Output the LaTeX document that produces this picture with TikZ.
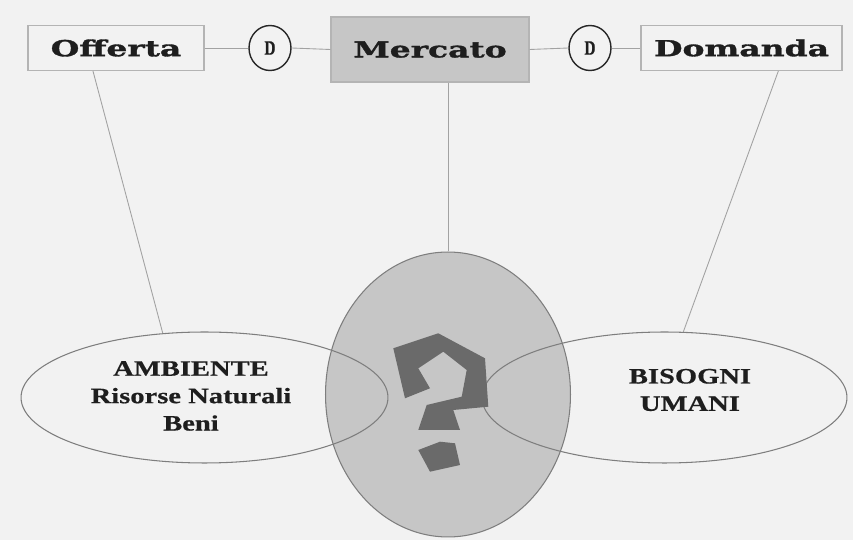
\documentclass[tikz,border=0pt]{standalone}
\usepackage{fontspec}
\setmainfont{Liberation Serif}
\newfontfamily\boxfont[FakeStretch=1.5,FakeBold=1.6]{DejaVu Serif}
\newfontfamily\ellfont[FakeStretch=1.3,FakeBold=0.6]{Liberation Serif}
\newfontfamily\dfont[FakeStretch=0.75,FakeBold=0.8]{Liberation Serif}
\usetikzlibrary{shapes.geometric}
\definecolor{bgcol}{HTML}{F2F2F2}
\definecolor{boxline}{HTML}{B4B4B4}
\definecolor{ellline}{HTML}{7E7E7E}
\definecolor{linkcol}{HTML}{A2A2A2}
\definecolor{midgray}{HTML}{C6C6C6}
\definecolor{qcol}{HTML}{6A6A6A}
\definecolor{txtcol}{HTML}{1E1E1E}

\begin{document}
\begin{tikzpicture}[x=0.02cm,y=-0.02cm,
  topbox/.style={rectangle,draw=boxline,line width=0.6pt,minimum height=0.9cm,text=txtcol,
    font=\boxfont\bfseries\fontsize{12.5}{14}\selectfont},
  dnode/.style={ellipse,draw=black!85,line width=0.8pt,minimum width=0.84cm,minimum height=0.9cm,
    inner sep=0pt,text=txtcol,font=\dfont\bfseries\fontsize{11.5}{12}\selectfont},
  field/.style={ellipse,draw=ellline,line width=0.6pt,minimum width=7.34cm,minimum height=2.62cm},
  fieldtext/.style={align=center,text=txtcol,font=\ellfont\bfseries\fontsize{12.5}{15.6}\selectfont},
  link/.style={draw=linkcol,line width=0.5pt}]

\fill[bgcol] (0,0) rectangle (853,540);
\useasboundingbox (0,0) rectangle (853,540);

\node[topbox,minimum width=3.52cm]		(off)	at (116,48)	{Offerta};
\node[dnode]					(d1)	at (270,48)	{D};
\node[topbox,fill=midgray,minimum width=3.96cm,minimum height=1.3cm] (merc) at (430,49.5) {Mercato};
\node[dnode]					(d2)	at (590,48)	{D};
\node[topbox,minimum width=4.02cm]		(dom)	at (741.5,48)	{Domanda};

\node[ellipse,fill=midgray,draw=ellline,line width=0.6pt,minimum width=4.9cm,minimum height=5.7cm] (quest) at (448,394.5) {};
\node[field]					(amb)	at (204.5,397.5) {};
\node[field,minimum width=7.3cm]		(bis)	at (664.5,397.5) {};
\node[fieldtext]	(ambtxt)	at (191,396)	{AMBIENTE\\Risorse Naturali\\Beni};
\node[fieldtext]	(bistxt)	at (690,390)	{BISOGNI\\UMANI};

\path[link]
	(off.east)	edge	(d1.west)
	(d1.east)	edge	(merc.west)
	(merc.east)	edge	(d2.west)
	(d2.east)	edge	(dom.west)
	(off.225)	edge	(amb.123)
	(quest.north |- merc.south)	edge	(quest.north)
	(dom.-32)	edge	(bis.74);

\fill[qcol] (405,398.3) -- (393.3,348.3) -- (438.3,333.3) -- (485,358.3) -- (488.3,406.7)
  -- (453.3,410) -- (460,430) -- (418.3,430) -- (426.7,405) -- (461.7,396.7) -- (466.7,370)
  -- (443.3,351.7) -- (418.3,368.3) -- (430,388.3) -- cycle;
\fill[qcol] (418.3,450) -- (440,441.7) -- (455,443.3) -- (460,465) -- (430,471.7) -- cycle;
\end{tikzpicture}
\end{document}
